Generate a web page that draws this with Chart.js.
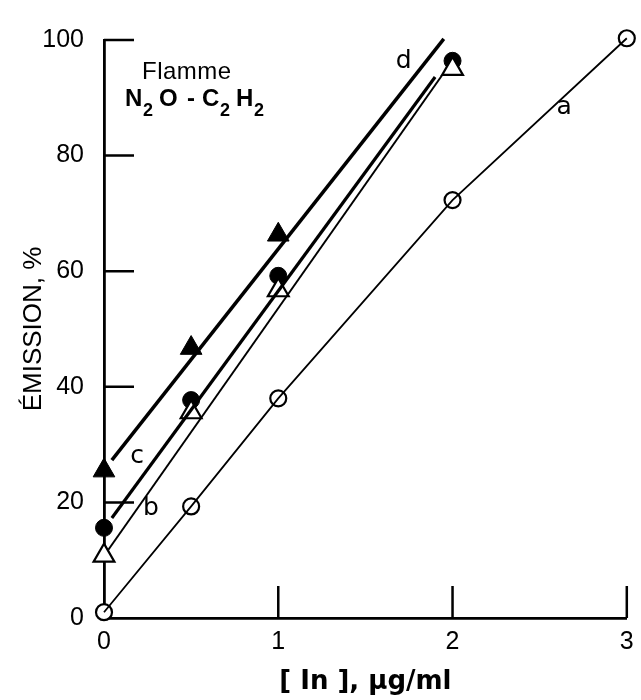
<!DOCTYPE html>
<html>
<head>
<meta charset="utf-8">
<script src="https://cdn.jsdelivr.net/npm/chart.js@4.4.1/dist/chart.umd.min.js"></script>
<style>
  html, body { margin: 0; padding: 0; background: #fff; }
  #wrap { width: 641px; height: 700px; position: relative; }
</style>
</head>
<body>
<div id="wrap"><canvas id="emissionChart"></canvas></div>
<script>
// concentration of In, ug/ml
const concA = [0, 0.5, 1, 2, 3];
const concBCD = [0, 0.5, 1, 2];

// emission %
const emissionA = [1, 19.3, 38, 72.3, 100.3];   // open circles
const emissionB = [10.8, 35.6, 56.7, 95];        // open triangles
const emissionC = [15.6, 37.7, 59.2, 96.4];      // filled circles
const emissionD = [25.5, 46.7, 66.3, 102.6];     // filled triangles

// drawn fit lines for b, c, d (start / end)
const fitX = { b: [0.025, 1.94], c: [0.045, 1.9], d: [0.045, 1.95] };
const fitY = { b: [11.8, 93.9], c: [17.3, 93.6], d: [27.3, 100.2] };

const xTicks = [0, 1, 2, 3];
const yTicks = [0, 20, 40, 60, 80, 100];

// curve letters, in data units
const curveLabels = [
    { text: 'a', x: 2.64, y: 88.4 },
    { text: 'd', x: 1.72, y: 96.2 },
    { text: 'c', x: 0.19, y: 27.9 },
    { text: 'b', x: 0.27, y: 19.0 }
];

const pts = (xs, ys) => xs.map((x, i) => ({ x: x, y: ys[i] }));

// inward tick marks + text annotations
const figurePlugin = {
    id: 'figure',
    afterDatasetsDraw: function (chart) {
        const ctx = chart.ctx;
        const area = chart.chartArea;
        const xs = chart.scales.x;
        const ys = chart.scales.y;
        ctx.save();
        ctx.strokeStyle = '#000';
        ctx.lineWidth = 2.5;
        ctx.beginPath();
        yTicks.forEach(v => {
            if (v === 0) return;
            const py = ys.getPixelForValue(v);
            ctx.moveTo(area.left, py);
            ctx.lineTo(area.left + 30, py);
        });
        xTicks.forEach(v => {
            if (v === 0) return;
            const px = xs.getPixelForValue(v);
            ctx.moveTo(px, area.bottom);
            ctx.lineTo(px, area.bottom - 32);
        });
        ctx.stroke();

        ctx.fillStyle = '#000';
        ctx.textAlign = 'center';
        ctx.textBaseline = 'middle';
        ctx.font = '25px "DejaVu Sans"';
        curveLabels.forEach(l => {
            ctx.fillText(l.text, xs.getPixelForValue(l.x), ys.getPixelForValue(l.y));
        });

        // Flamme N2O-C2H2
        ctx.textAlign = 'left';
        ctx.textBaseline = 'alphabetic';
        ctx.font = '24px "Liberation Sans"';
        ctx.letterSpacing = '0.5px';
        ctx.fillText('Flamme', area.left + 38, 79);
        ctx.letterSpacing = '0px';
        const parts = [['N', 0], ['2', 1], ['O', 0], ['-', 0], ['C', 0], ['2', 1], ['H', 0], ['2', 1]];
        const partX = [125, 143, 159, 187, 202, 220, 236, 254];
        parts.forEach((p, i) => {
            ctx.font = p[1] ? 'bold 18px "Liberation Sans"' : 'bold 24px "Liberation Sans"';
            ctx.fillText(p[0], partX[i], p[1] ? 116 : 106);
        });
        ctx.restore();
    }
};

const lineStyle = { showLine: true, pointRadius: 0, fill: false, borderColor: '#000' };

new Chart(document.getElementById('emissionChart'), {
    type: 'scatter',
    data: {
        datasets: [
            Object.assign({ data: pts(fitX.d, fitY.d), borderWidth: 3.5 }, lineStyle),
            Object.assign({ data: pts(fitX.c, fitY.c), borderWidth: 3.2 }, lineStyle),
            Object.assign({ data: pts(fitX.b, fitY.b), borderWidth: 2 }, lineStyle),
            Object.assign({ data: pts(concA, emissionA), borderWidth: 1.8 }, lineStyle),
            {
                label: 'a', data: pts(concA, emissionA), pointStyle: 'circle', pointRadius: 8,
                backgroundColor: '#fff', borderColor: '#000', borderWidth: 2.2
            },
            {
                label: 'b', data: pts(concBCD, emissionB), pointStyle: 'triangle', pointRadius: 12,
                backgroundColor: '#fff', borderColor: '#000', borderWidth: 2.2
            },
            {
                label: 'c', data: pts(concBCD, emissionC), pointStyle: 'circle', pointRadius: 8.5,
                backgroundColor: '#000', borderColor: '#000', borderWidth: 1
            },
            {
                label: 'd', data: pts(concBCD, emissionD), pointStyle: 'triangle', pointRadius: 12.5,
                backgroundColor: '#000', borderColor: '#000', borderWidth: 1
            }
        ]
    },
    options: {
        responsive: true,
        maintainAspectRatio: false,
        animation: false,
        clip: false,
        layout: { padding: { top: 40, right: 9, left: 0, bottom: 0 } },
        plugins: {
            legend: { display: false },
            tooltip: { enabled: false }
        },
        scales: {
            x: {
                type: 'linear',
                min: 0,
                max: 3,
                afterFit: function (s) { s.height = 82; },
                afterBuildTicks: function (s) { s.ticks = xTicks.map(v => ({ value: v })); },
                border: { display: true, color: '#000', width: 2.8 },
                grid: { display: false },
                ticks: {
                    color: '#000',
                    padding: 1,
                    font: { family: 'Liberation Sans', size: 25 }
                },
                title: {
                    display: true,
                    text: '[ In ], \u03bcg/ml',
                    color: '#000',
                    padding: { top: 0, bottom: 2 },
                    font: { family: 'DejaVu Sans', size: 26, weight: 'bold' }
                }
            },
            y: {
                type: 'linear',
                min: 0,
                max: 100,
                afterFit: function (s) { s.width = 104; },
                afterBuildTicks: function (s) { s.ticks = yTicks.map(v => ({ value: v })); },
                border: { display: true, color: '#000', width: 2.8 },
                grid: { display: false },
                ticks: {
                    color: '#000',
                    padding: 12,
                    font: { family: 'Liberation Sans', size: 25 }
                },
                title: {
                    display: true,
                    text: '\u00c9MISSION, %',
                    color: '#000',
                    padding: { top: 18, bottom: 0 },
                    font: { family: 'Liberation Sans', size: 26 }
                }
            }
        }
    },
    plugins: [figurePlugin]
});
</script>
</body>
</html>
